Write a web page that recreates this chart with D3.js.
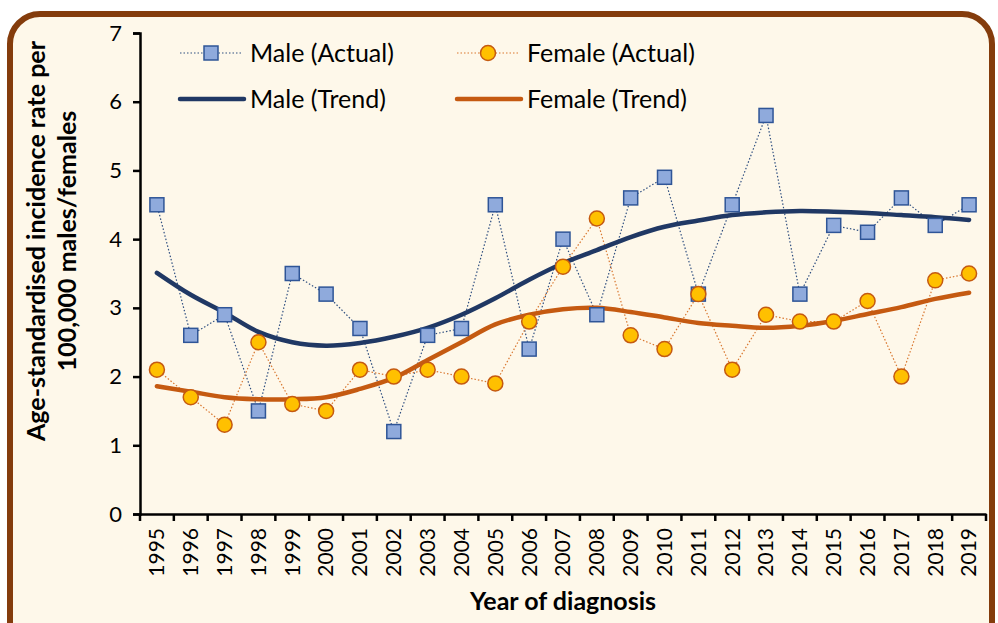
<!DOCTYPE html>
<html>
<head>
<meta charset="utf-8">
<script src="https://cdn.jsdelivr.net/npm/d3@7"></script>
<style>
  body { margin: 0; background: #fff; }
  text { font-family: Lato, "Noto Sans", sans-serif; fill: #000; }
</style>
</head>
<body>
<div class="svg_container"></div>
<script>
// data
var years = ["1995","1996","1997","1998","1999","2000","2001","2002","2003","2004","2005","2006",
  "2007","2008","2009","2010","2011","2012","2013","2014","2015","2016","2017","2018","2019"];
var maleActual = [4.5,2.6,2.9,1.5,3.5,3.2,2.7,1.2,2.6,2.7,4.5,2.4,4.0,2.9,4.6,4.9,3.2,4.5,5.8,3.2,4.2,4.1,4.6,4.2,4.5];
var femaleActual = [2.1,1.7,1.3,2.5,1.6,1.5,2.1,2.0,2.1,2.0,1.9,2.8,3.6,4.3,2.6,2.4,3.2,2.1,2.9,2.8,2.8,3.1,2.0,3.4,3.5];
var maleTrend = [3.51,3.19,2.93,2.65,2.50,2.45,2.49,2.58,2.71,2.90,3.14,3.41,3.65,3.84,4.03,4.18,4.27,4.35,4.39,4.41,4.40,4.38,4.35,4.32,4.28];
var femaleTrend = [1.86,1.78,1.70,1.67,1.67,1.70,1.82,1.98,2.24,2.50,2.76,2.90,2.98,3.00,2.94,2.86,2.78,2.74,2.71,2.74,2.81,2.91,3.01,3.13,3.22];
var yTicks = [0,1,2,3,4,5,6,7];

var W = 998, H = 623;
var margin = { top: 33, right: 12, bottom: 109, left: 140 },
  width = W - margin.left - margin.right,
  height = H - margin.top - margin.bottom;

var svg = d3.select(".svg_container").append("svg")
  .attr("width", W)
  .attr("height", H);

// rounded frame
svg.append("rect")
  .attr("x", 10).attr("y", 14)
  .attr("width", 982).attr("height", 640)
  .attr("rx", 30).attr("ry", 30)
  .attr("fill", "#fef8ea")
  .attr("stroke", "#843c0c")
  .attr("stroke-width", 6);

var g = svg.append("g")
  .attr("transform", "translate(" + margin.left + "," + margin.top + ")");

var x = d3.scaleBand().domain(years).range([0, width]);
var y = d3.scaleLinear().domain([0, 7]).range([height, 0]);
var cx = function(i) { return x(years[i]) + x.bandwidth() / 2; };

// y axis
var yAxis = g.append("g")
  .call(d3.axisLeft(y).tickValues(yTicks).tickFormat(d3.format("d")).tickSize(7).tickPadding(11));
yAxis.select(".domain").attr("stroke", "#000").attr("stroke-width", 2.5);
yAxis.selectAll(".tick line").attr("stroke", "#000").attr("stroke-width", 2.5);
yAxis.selectAll("text").style("font-size", "22px").style("font-family", "Lato, sans-serif");

// x axis, ticks between categories
var xAxis = g.append("g")
  .attr("transform", "translate(0," + height + ")")
  .call(d3.axisBottom(x).tickSize(0));
xAxis.select(".domain").attr("stroke", "#000").attr("stroke-width", 2.5);
xAxis.selectAll("text")
  .style("font-size", "21px")
  .style("font-family", "Lato, sans-serif")
  .attr("transform", "rotate(-90)")
  .attr("text-anchor", "end")
  .attr("x", -14)
  .attr("y", 0)
  .attr("dy", "0.35em");
g.append("g").selectAll("line")
  .data(d3.range(years.length + 1))
  .enter().append("line")
  .attr("x1", function(i) { return i * x.step(); })
  .attr("x2", function(i) { return i * x.step(); })
  .attr("y1", height).attr("y2", height + 7)
  .attr("stroke", "#000").attr("stroke-width", 2.5);

// lines
var lineGen = d3.line()
  .x(function(d, i) { return cx(i); })
  .y(function(d) { return y(d); });
var curveGen = d3.line()
  .x(function(d, i) { return cx(i); })
  .y(function(d) { return y(d); })
  .curve(d3.curveCatmullRom);

g.append("path").datum(maleActual)
  .attr("d", lineGen).attr("fill", "none")
  .attr("stroke", "#2f4f80").attr("stroke-width", 1.2)
  .attr("stroke-dasharray", "1.5,2");
g.append("path").datum(femaleActual)
  .attr("d", lineGen).attr("fill", "none")
  .attr("stroke", "#d9772f").attr("stroke-width", 1.2)
  .attr("stroke-dasharray", "1.5,2");

g.append("path").datum(maleTrend)
  .attr("d", curveGen).attr("fill", "none")
  .attr("stroke", "#203864").attr("stroke-width", 4.5)
  .attr("stroke-linecap", "round");
g.append("path").datum(femaleTrend)
  .attr("d", curveGen).attr("fill", "none")
  .attr("stroke", "#c55a11").attr("stroke-width", 4.5)
  .attr("stroke-linecap", "round");

// markers
g.selectAll(".sq")
  .data(maleActual)
  .enter().append("rect")
  .attr("class", "sq")
  .attr("x", function(d, i) { return cx(i) - 7; })
  .attr("y", function(d) { return y(d) - 7; })
  .attr("width", 14).attr("height", 14)
  .attr("fill", "#8faadc").attr("stroke", "#2f5597").attr("stroke-width", 1.5);

g.selectAll(".dot")
  .data(femaleActual)
  .enter().append("circle")
  .attr("class", "dot")
  .attr("cx", function(d, i) { return cx(i); })
  .attr("cy", function(d) { return y(d); })
  .attr("r", 7.5)
  .attr("fill", "#ffc000").attr("stroke", "#c55a11").attr("stroke-width", 1.5);

// legend
var leg = svg.append("g");
var legItems = [
  { label: "Male (Actual)", x: 180, y: 53, type: "sq" },
  { label: "Female (Actual)", x: 457, y: 53, type: "dot" },
  { label: "Male (Trend)", x: 180, y: 99, type: "mt" },
  { label: "Female (Trend)", x: 457, y: 99, type: "ft" }
];
legItems.forEach(function(d) {
  if (d.type == "sq" || d.type == "dot") {
    leg.append("line")
      .attr("x1", d.x).attr("x2", d.x + 62).attr("y1", d.y).attr("y2", d.y)
      .attr("stroke", d.type == "sq" ? "#2f4f80" : "#d9772f")
      .attr("stroke-width", 1.2).attr("stroke-dasharray", "1.5,2");
    if (d.type == "sq") {
      leg.append("rect")
        .attr("x", d.x + 31 - 7).attr("y", d.y - 7).attr("width", 14).attr("height", 14)
        .attr("fill", "#8faadc").attr("stroke", "#2f5597").attr("stroke-width", 1.5);
    } else {
      leg.append("circle")
        .attr("cx", d.x + 31).attr("cy", d.y).attr("r", 7.5)
        .attr("fill", "#ffc000").attr("stroke", "#c55a11").attr("stroke-width", 1.5);
    }
  } else {
    leg.append("line")
      .attr("x1", d.x).attr("x2", d.x + 64).attr("y1", d.y).attr("y2", d.y)
      .attr("stroke", d.type == "mt" ? "#203864" : "#c55a11")
      .attr("stroke-width", 4.5).attr("stroke-linecap", "round");
  }
  leg.append("text")
    .attr("x", d.x + 70).attr("y", d.y)
    .attr("dy", "0.35em")
    .style("font-size", "25px")
    .text(d.label);
});

// axis titles
svg.append("text")
  .attr("x", margin.left + width / 2).attr("y", 601)
  .attr("dy", "0.35em")
  .attr("text-anchor", "middle")
  .style("font-size", "25px").style("font-weight", "bold")
  .text("Year of diagnosis");

var yt = svg.append("text")
  .attr("transform", "translate(52,241) rotate(-90)")
  .attr("text-anchor", "middle")
  .style("font-size", "25px").style("font-weight", "bold");
yt.append("tspan").attr("x", 0).attr("y", -15.5).attr("dy", "0.35em").text("Age-standardised incidence rate per");
yt.append("tspan").attr("x", 0).attr("y", 15.5).attr("dy", "0.35em").text("100,000 males/females");
</script>
</body>
</html>
